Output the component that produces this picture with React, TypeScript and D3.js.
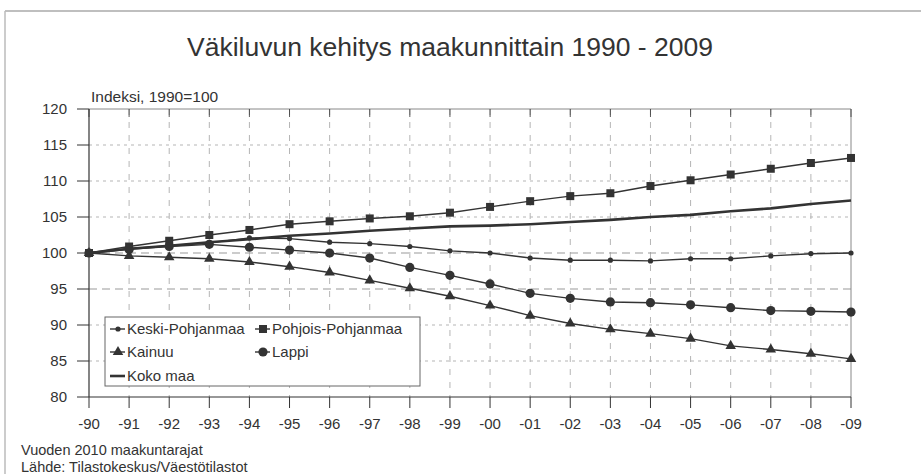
import React from "react";
import * as d3 from "d3";

const years = d3.range(1990, 2010);
const yearLabels = ["-90", "-91", "-92", "-93", "-94", "-95", "-96", "-97", "-98", "-99",
  "-00", "-01", "-02", "-03", "-04", "-05", "-06", "-07", "-08", "-09"];
const yTicks = [80, 85, 90, 95, 100, 105, 110, 115, 120];

const keskiPohjanmaa = [100, 100.6, 101.0, 101.4, 102.1, 102.0, 101.5, 101.3, 100.9, 100.3,
  100.0, 99.3, 99.0, 99.0, 98.9, 99.2, 99.2, 99.6, 99.9, 100.0];
const pohjoisPohjanmaa = [100, 100.9, 101.7, 102.5, 103.2, 104.0, 104.4, 104.8, 105.1, 105.6,
  106.4, 107.2, 107.9, 108.3, 109.3, 110.1, 110.9, 111.7, 112.5, 113.2];
const kainuu = [100, 99.6, 99.4, 99.2, 98.75, 98.1, 97.3, 96.2, 95.1, 94.0,
  92.7, 91.3, 90.2, 89.4, 88.8, 88.1, 87.1, 86.6, 86.0, 85.3];
const lappi = [100, 100.5, 100.9, 101.2, 100.8, 100.4, 100.0, 99.3, 98.0, 96.9,
  95.7, 94.4, 93.7, 93.2, 93.1, 92.8, 92.4, 92.0, 91.9, 91.8];
const kokoMaa = [100, 100.6, 101.0, 101.5, 101.9, 102.4, 102.7, 103.1, 103.4, 103.7,
  103.8, 104.0, 104.3, 104.6, 105.0, 105.3, 105.8, 106.2, 106.8, 107.3];

type Marker = "dot" | "square" | "triangle" | "circle" | "none";
const series: { name: string; values: number[]; marker: Marker; width: number }[] = [
  { name: "Keski-Pohjanmaa", values: keskiPohjanmaa, marker: "dot", width: 1.4 },
  { name: "Pohjois-Pohjanmaa", values: pohjoisPohjanmaa, marker: "square", width: 1.4 },
  { name: "Kainuu", values: kainuu, marker: "triangle", width: 1.4 },
  { name: "Lappi", values: lappi, marker: "circle", width: 1.4 },
  { name: "Koko maa", values: kokoMaa, marker: "none", width: 2.6 },
];

const INK = "#333";
const GRID = "#b5b5b5";
const FONT = "'Liberation Sans', Arial, Helvetica, sans-serif";

const x = d3.scaleLinear().domain([1990, 2009]).range([89, 851]);
const y = d3.scaleLinear().domain([80, 120]).range([397, 109]);

function MarkerShape({ type, cx, cy }: { type: Marker; cx: number; cy: number }) {
  if (type === "dot") return <circle cx={cx} cy={cy} r={2.6} fill={INK} />;
  if (type === "circle") return <circle cx={cx} cy={cy} r={4.6} fill={INK} />;
  if (type === "square") return <rect x={cx - 4} y={cy - 4} width={8} height={8} fill={INK} />;
  if (type === "triangle") {
    const p = d3.symbol(d3.symbolTriangle, 48)();
    return <path d={p || ""} transform={`translate(${cx},${cy})`} fill={INK} />;
  }
  return null;
}

export default function App() {
  const line = d3.line<number>().x((_, i) => x(years[i])).y((d) => y(d));
  const [x0, x1] = x.range();
  const [yb, yt] = y.range();

  const legendItems = [
    { s: series[0], lx: 110, ly: 329 },
    { s: series[1], lx: 255, ly: 329 },
    { s: series[2], lx: 110, ly: 352 },
    { s: series[3], lx: 255, ly: 352 },
    { s: series[4], lx: 110, ly: 376 },
  ];

  return (
    <svg width={921} height={474} style={{ position: "absolute", left: 0, top: 0, background: "#fff" }}
      fontFamily={FONT}>
      {/* outer frame (top & left only visible) */}
      <line x1={5} x2={921} y1={11} y2={11} stroke="#aaa" strokeWidth={1.5} />
      <line x1={5} x2={5} y1={11} y2={474} stroke="#bbb" strokeWidth={1.5} />

      <text x={450} y={56} textAnchor="middle" fontSize={26.5} fill={INK}>
        Väkiluvun kehitys maakunnittain 1990 - 2009
      </text>
      <text x={91} y={102} fontSize={15.5} fill={INK}>Indeksi, 1990=100</text>

      {/* grid */}
      {years.slice(1, -1).map((yr) => (
        <line key={yr} x1={x(yr)} x2={x(yr)} y1={yt} y2={yb} stroke={GRID} strokeWidth={1}
          strokeDasharray="6,7" />
      ))}
      {yTicks.filter((t) => t > 80 && t < 120).map((t) => (
        <line key={t} x1={x0} x2={x1} y1={y(t)} y2={y(t)} stroke={t === 100 || t === 95 ? "#999" : GRID}
          strokeWidth={1} strokeDasharray={t === 100 || t === 95 ? "8,5" : "3,4"} />
      ))}

      {/* frame */}
      <line x1={x0} x2={x1} y1={yt} y2={yt} stroke="#888" strokeWidth={1} />
      <line x1={x1} x2={x1} y1={yt} y2={yb} stroke="#888" strokeWidth={1} />
      <line x1={x0} x2={x0} y1={yt} y2={yb} stroke={INK} strokeWidth={1.2} />
      <line x1={x0} x2={x1} y1={yb} y2={yb} stroke={INK} strokeWidth={1.2} />

      {/* y ticks */}
      {yTicks.map((t) => (
        <g key={t}>
          <line x1={x0 - 12} x2={x0} y1={y(t)} y2={y(t)} stroke={INK} strokeWidth={1} />
          <text x={67} y={y(t) + 5} textAnchor="end" fontSize={15} fill={INK}>{t}</text>
        </g>
      ))}
      {/* x ticks */}
      {years.map((yr, i) => (
        <g key={yr}>
          <line x1={x(yr)} x2={x(yr)} y1={yb} y2={yb + 11} stroke={INK} strokeWidth={1} />
          <line x1={x(yr)} x2={x(yr)} y1={yt} y2={yt + 8} stroke={INK} strokeWidth={0.8} />
          <text x={x(yr)} y={429} textAnchor="middle" fontSize={15} fill={INK}>{yearLabels[i]}</text>
        </g>
      ))}

      {/* series */}
      {series.map((s) => (
        <g key={s.name}>
          <path d={line(s.values) || ""} fill="none" stroke={INK} strokeWidth={s.width} />
          {s.values.map((v, i) => (
            <MarkerShape key={i} type={s.marker} cx={x(years[i])} cy={y(v)} />
          ))}
        </g>
      ))}

      {/* legend */}
      <rect x={105} y={317} width={315} height={69} fill="#fff" stroke="#666" strokeWidth={1} />
      {legendItems.map(({ s, lx, ly }) => (
        <g key={s.name}>
          <line x1={lx} x2={lx + 15} y1={ly} y2={ly} stroke={INK} strokeWidth={s.width} />
          <MarkerShape type={s.marker} cx={lx + 8} cy={ly} />
          <text x={lx + 17} y={ly + 5} fontSize={15} fill={INK}>{s.name}</text>
        </g>
      ))}

      {/* footnotes */}
      <text x={21} y={455} fontSize={14.5} fill={INK}>Vuoden 2010 maakuntarajat</text>
      <text x={21} y={472} fontSize={14.5} fill={INK}>Lähde: Tilastokeskus/Väestötilastot</text>
    </svg>
  );
}
